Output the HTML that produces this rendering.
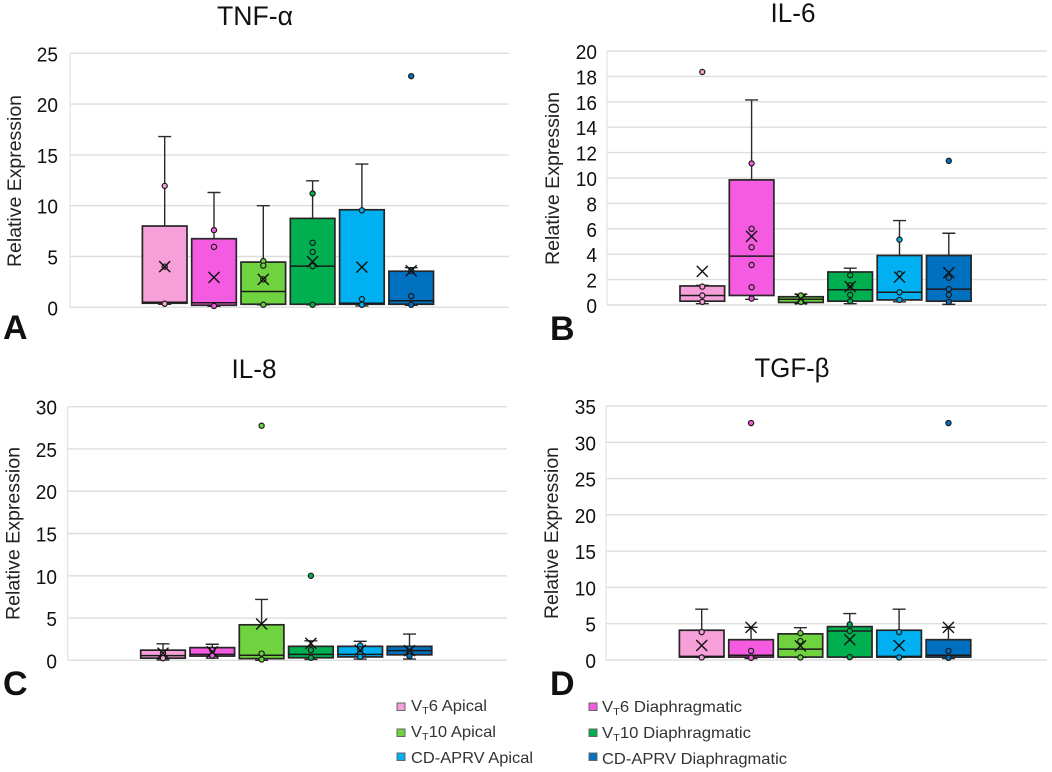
<!DOCTYPE html>
<html lang="en">
<head>
<meta charset="utf-8">
<title>Relative expression of inflammatory markers</title>
<style>
html,body{margin:0;padding:0;background:#fff;width:1052px;height:772px;overflow:hidden}
svg{display:block;font-family:"Liberation Sans",sans-serif}
.title{font-size:27px;fill:#111;text-anchor:middle}
.ytitle{font-size:19.5px;fill:#222;text-anchor:middle}
.tick{font-size:20px;fill:#111;text-anchor:end}
.letter{font-size:34px;font-weight:bold;fill:#111}
.leg{font-size:16px;fill:#333}
.sub{font-size:10.5px}
</style>
</head>
<body>
<svg id="figure" width="1052" height="772" viewBox="0 0 1052 772" xmlns="http://www.w3.org/2000/svg">
  <g id="panel-a">
    <text class="title" x="255" y="25" textLength="76" lengthAdjust="spacingAndGlyphs">TNF-α</text>
    <text class="ytitle" transform="translate(21,181) rotate(-90)" textLength="172" lengthAdjust="spacingAndGlyphs">Relative Expression</text>
    <text class="letter" x="3" y="339">A</text>
  </g>
  <g id="panel-b">
    <text class="title" x="793" y="22" textLength="45" lengthAdjust="spacingAndGlyphs">IL-6</text>
    <text class="ytitle" transform="translate(559,178.5) rotate(-90)" textLength="173" lengthAdjust="spacingAndGlyphs">Relative Expression</text>
    <text class="letter" x="550" y="340">B</text>
  </g>
  <g id="panel-c">
    <text class="title" x="254" y="378" textLength="45" lengthAdjust="spacingAndGlyphs">IL-8</text>
    <text class="ytitle" transform="translate(19.5,533.5) rotate(-90)" textLength="173" lengthAdjust="spacingAndGlyphs">Relative Expression</text>
    <text class="letter" x="3" y="695">C</text>
  </g>
  <g id="panel-d">
    <text class="title" x="792" y="377" textLength="75" lengthAdjust="spacingAndGlyphs">TGF-β</text>
    <text class="ytitle" transform="translate(558,533) rotate(-90)" textLength="172" lengthAdjust="spacingAndGlyphs">Relative Expression</text>
    <text class="letter" x="550" y="695">D</text>
  </g>
  <g id="legend">
    <g>
      <rect x="397" y="703" width="8" height="7.5" fill="#F79FD8" stroke="#666" stroke-width="1"/>
      <text class="leg" x="411" y="711" textLength="76" lengthAdjust="spacingAndGlyphs">V<tspan class="sub" dy="3">T</tspan><tspan dy="-3">6 Apical</tspan></text>
    </g>
    <g>
      <rect x="589" y="703" width="8" height="7.5" fill="#F55BE0" stroke="#666" stroke-width="1"/>
      <text class="leg" x="602" y="712" textLength="140" lengthAdjust="spacingAndGlyphs">V<tspan class="sub" dy="3">T</tspan><tspan dy="-3">6 Diaphragmatic</tspan></text>
    </g>
    <g>
      <rect x="397" y="729" width="8" height="7.5" fill="#6FD33F" stroke="#666" stroke-width="1"/>
      <text class="leg" x="411" y="737" textLength="85" lengthAdjust="spacingAndGlyphs">V<tspan class="sub" dy="3">T</tspan><tspan dy="-3">10 Apical</tspan></text>
    </g>
    <g>
      <rect x="589" y="729" width="8" height="7.5" fill="#00B050" stroke="#666" stroke-width="1"/>
      <text class="leg" x="602" y="738" textLength="149" lengthAdjust="spacingAndGlyphs">V<tspan class="sub" dy="3">T</tspan><tspan dy="-3">10 Diaphragmatic</tspan></text>
    </g>
    <g>
      <rect x="397" y="753" width="8" height="7.5" fill="#00B0F0" stroke="#666" stroke-width="1"/>
      <text class="leg" x="411" y="763" textLength="122" lengthAdjust="spacingAndGlyphs">CD-APRV Apical</text>
    </g>
    <g>
      <rect x="589" y="753" width="8" height="7.5" fill="#0070C0" stroke="#666" stroke-width="1"/>
      <text class="leg" x="602" y="764" textLength="185" lengthAdjust="spacingAndGlyphs">CD-APRV Diaphragmatic</text>
    </g>
  </g>
</svg>
<script>
// Categories shared by all panels
const seriesNames = ['vt6-apical','vt6-diaphragmatic','vt10-apical','vt10-diaphragmatic','cd-aprv-apical','cd-aprv-diaphragmatic'];
const seriesColors = ['#F79FD8','#F55BE0','#6FD33F','#00B050','#00B0F0','#0070C0'];

// Panel A: TNF-alpha
const tnfTicks = [0,5,10,15,20,25];
const tnfQ1 = [0.4,0.2,0.3,0.3,0.3,0.3];
const tnfMedian = [0.5,0.45,1.55,4.05,0.4,0.65];
const tnfQ3 = [8.0,6.75,4.45,8.75,9.6,3.55];
const tnfLow = [0.3,0.1,0.25,0.25,0.13,0.2];
const tnfHigh = [16.8,11.3,10,12.45,14.1,3.9];
const tnfMean = [4.0,2.95,2.75,4.5,3.95,3.6];
const tnfPoints = [[11.95,4.0,0.35],[7.6,5.95,0.13],[4.55,4.1,2.75,0.25],[11.2,6.35,5.45,4.05,0.25],[9.55,0.8,0.25],[22.75,3.6,1.1,0.25]];

// Panel B: IL-6
const il6Ticks = [0,2,4,6,8,10,12,14,16,18,20];
const il6Q1 = [0.3,0.75,0.2,0.3,0.4,0.3];
const il6Median = [0.75,3.85,0.45,1.2,1.0,1.25];
const il6Q3 = [1.5,9.85,0.65,2.6,3.9,3.9];
const il6Low = [0.1,0.45,0.1,0.1,0.25,0.05];
const il6High = [1.55,16.15,0.85,2.9,6.65,5.65];
const il6Mean = [2.65,5.4,0.47,1.45,2.2,2.55];
const il6Points = [[18.35,1.45,0.75,0.25],[11.15,6,4.55,3.15,1.4,0.5],[0.75,0.25],[2.35,1.55,0.8,0.3],[5.15,2.45,1,0.4],[11.35,2.15,1.25,0.8,0.25]];

// Panel C: IL-8
const il8Ticks = [0,5,10,15,20,25,30];
const il8Q1 = [0.25,0.5,0.2,0.3,0.4,0.65];
const il8Median = [0.55,0.7,0.6,0.7,0.7,1.15];
const il8Q3 = [1.2,1.5,4.2,1.65,1.65,1.65];
const il8Low = [0.05,0.25,0,0.1,0.15,0.15];
const il8High = [1.95,1.9,7.2,2.3,2.25,3.1];
const il8Mean = [0.85,1.0,4.3,2.0,1.2,1.15];
const il8Points = [[0.85,0.25],[1.2,0.55],[27.75,0.8,0.1],[10,1.2,0.3],[1.75,1.3,0.4],[1.4,1.0,0.5]];

// Panel D: TGF-beta
const tgfTicks = [0,5,10,15,20,25,30,35];
const tgfQ1 = [0.4,0.4,0.4,0.4,0.4,0.4];
const tgfMedian = [0.5,0.65,1.5,4.0,0.5,0.65];
const tgfQ3 = [4.1,2.8,3.6,4.6,4.1,2.8];
const tgfLow = [0.35,0.2,0.35,0.35,0.35,0.2];
const tgfHigh = [7,4.5,4.45,6.4,7,4.5];
const tgfMean = [2,4.5,1.95,2.8,2,4.5];
const tgfPoints = [[3.85,0.35],[32.65,1.25,0.3],[3.7,2.6,0.35],[4.9,4,0.4],[3.85,0.35],[32.65,1.25,0.3]];

const NS = 'http://www.w3.org/2000/svg';
function make(parent, tag, attrs, text) {
  const el = document.createElementNS(NS, tag);
  for (const k in attrs) el.setAttribute(k, attrs[k]);
  if (text !== undefined) el.textContent = text;
  parent.appendChild(el);
  return el;
}

function drawPanel(p) {
  const root = document.getElementById(p.id);
  const maxTick = p.ticks[p.ticks.length - 1];
  const y = v => p.bottom - (v / maxTick) * (p.bottom - p.top);
  const x = i => p.firstCenter + i * p.step;

  const axis = make(root, 'g', {});
  
  

  const yLine = make(axis, 'line', {x1: p.left, x2: p.left, y1: p.top, y2: p.bottom, stroke: '#e2e2e2', 'stroke-width': 1.2});
  
  

  p.ticks.forEach(t => {
    const grid = make(axis, 'line', {x1: p.left, x2: p.right, y1: y(t), y2: y(t), stroke: '#dedede', 'stroke-width': 1.4});
    
    
    const tickText = String(t);
    const label = make(axis, 'text', {class: 'tick', x: p.left - p.tickGap, y: y(t) + 8, textLength: tickText.length * 10.6, lengthAdjust: 'spacingAndGlyphs'}, tickText);
    
    
  });

  seriesNames.forEach((name, i) => {
    const cx = x(i);
    const hw = 22.3;
    const g = make(root, 'g', {});
    
    

    const whiskers = make(g, 'path', {
      d: 'M' + (cx - 6.5) + ' ' + y(p.high[i]) + 'H' + (cx + 6.5) + 'M' + cx + ' ' + y(p.high[i]) + 'V' + y(p.low[i]) + 'M' + (cx - 6.5) + ' ' + y(p.low[i]) + 'H' + (cx + 6.5),
      fill: 'none', stroke: '#2a2a2a', 'stroke-width': 1.4
    });
    
    

    const box = make(g, 'rect', {
      x: cx - hw, y: y(p.q3[i]), width: hw * 2, height: y(p.q1[i]) - y(p.q3[i]),
      fill: seriesColors[i], stroke: '#262626', 'stroke-width': 1.7
    });
    
    

    const med = make(g, 'line', {x1: cx - hw, x2: cx + hw, y1: y(p.median[i]), y2: y(p.median[i]), stroke: '#1a1a1a', 'stroke-width': 1.5});
    
    

    p.points[i].forEach((v, j) => {
      const dot = make(g, 'circle', {cx: cx, cy: y(v), r: 2.6, fill: seriesColors[i], stroke: '#1a1a1a', 'stroke-width': 1.2});
      
      
    });

    const my = y(p.mean[i]);
    const mean = make(g, 'path', {
      d: 'M' + (cx - 5.5) + ' ' + (my - 5.5) + 'L' + (cx + 5.5) + ' ' + (my + 5.5) + 'M' + (cx + 5.5) + ' ' + (my - 5.5) + 'L' + (cx - 5.5) + ' ' + (my + 5.5),
      fill: 'none', stroke: '#111', 'stroke-width': 1.4
    });
    
    
  });
}

drawPanel({id: 'panel-a', key: 'tnf', left: 70, right: 509, top: 53.3, bottom: 307.3, firstCenter: 164.7, step: 49.3, tickGap: 12,
  ticks: tnfTicks, q1: tnfQ1, median: tnfMedian, q3: tnfQ3, low: tnfLow, high: tnfHigh, mean: tnfMean, points: tnfPoints});
drawPanel({id: 'panel-b', key: 'il6', left: 607, right: 1047, top: 51, bottom: 305, firstCenter: 702.3, step: 49.3, tickGap: 10,
  ticks: il6Ticks, q1: il6Q1, median: il6Median, q3: il6Q3, low: il6Low, high: il6High, mean: il6Mean, points: il6Points});
drawPanel({id: 'panel-c', key: 'il8', left: 67.7, right: 507, top: 406.7, bottom: 660.3, firstCenter: 163, step: 49.3, tickGap: 10.7,
  ticks: il8Ticks, q1: il8Q1, median: il8Median, q3: il8Q3, low: il8Low, high: il8High, mean: il8Mean, points: il8Points});
drawPanel({id: 'panel-d', key: 'tgf', left: 606, right: 1047, top: 406, bottom: 660, firstCenter: 701.7, step: 49.35, tickGap: 10,
  ticks: tgfTicks, q1: tgfQ1, median: tgfMedian, q3: tgfQ3, low: tgfLow, high: tgfHigh, mean: tgfMean, points: tgfPoints});
</script>
</body>
</html>
